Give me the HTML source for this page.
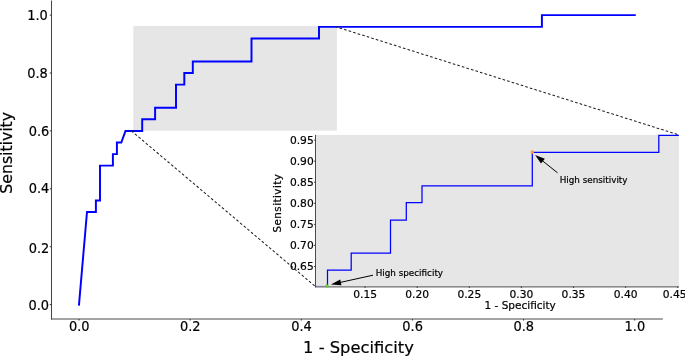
<!DOCTYPE html>
<html>
<head>
<meta charset="utf-8">
<title>ROC curve</title>
<style>
html,body{margin:0;padding:0;background:#fff;overflow:hidden;}
body{width:685px;height:356px;}
svg text{stroke:#000;stroke-width:0.2px;}
svg{display:block;will-change:transform;font-family:"DejaVu Sans","Liberation Sans",sans-serif;fill:#000;}
</style>
</head>
<body>
<svg width="685" height="356" viewBox="0 0 685 356">
<rect x="0" y="0" width="685" height="356" fill="#ffffff"/>
<!-- zoom region in main axes -->
<rect x="133.3" y="25.9" width="203.6" height="104.8" fill="#e6e6e6"/>
<!-- inset background -->
<rect x="315.5" y="134.9" width="363.4" height="151.7" fill="#e6e6e6"/>
<!-- main spines -->
<g stroke="#484848" stroke-width="1.05" fill="none">
<line x1="51.5" y1="0.5" x2="51.5" y2="319.5"/>
<line x1="51" y1="319" x2="662.8" y2="319"/>
</g>
<!-- main ticks -->
<g stroke="#333" stroke-width="1" fill="none">
<path d="M49.8 304.6H51.5M49.8 246.7H51.5M49.8 188.8H51.5M49.8 130.9H51.5M49.8 73H51.5M49.8 15.1H51.5"/>
<path d="M79 319V320.5M190.1 319V320.5M301.3 319V320.5M412.4 319V320.5M523.6 319V320.5M634.7 319V320.5"/>
</g>
<!-- main tick labels -->
<g font-size="13.6" text-anchor="end">
<text transform="translate(49.10 310.20) scale(0.955 1)">0.0</text>
<text transform="translate(49.30 252.80) scale(0.955 1)">0.2</text>
<text transform="translate(49.30 193.20) scale(0.955 1)">0.4</text>
<text transform="translate(49.30 135.90) scale(0.955 1)">0.6</text>
<text transform="translate(47.80 78.00) scale(0.955 1)">0.8</text>
<text transform="translate(47.80 19.60) scale(0.955 1)">1.0</text>
</g>
<g font-size="13.6" text-anchor="middle">
<text transform="translate(79.20 331.30) scale(0.955 1)">0.0</text>
<text transform="translate(190.30 331.30) scale(0.955 1)">0.2</text>
<text transform="translate(301.50 331.30) scale(0.955 1)">0.4</text>
<text transform="translate(412.60 331.30) scale(0.955 1)">0.6</text>
<text transform="translate(523.80 331.30) scale(0.955 1)">0.8</text>
<text transform="translate(634.90 331.30) scale(0.955 1)">1.0</text>
</g>
<!-- main axis labels -->
<text x="358.5" y="352.7" font-size="16.33" text-anchor="middle">1 - Specificity</text>
<text transform="translate(12.0 152.8) rotate(-90)" font-size="15.7" text-anchor="middle">Sensitivity</text>
<!-- main ROC curve -->
<path fill="none" stroke="#0000ff" stroke-width="1.95" stroke-linecap="square" stroke-linejoin="miter"
 d="M79 304.6L87 212H95.9V200.4H100V165.6H112.9V154.1H116.9V142.5H121.3L125.5 130.9H142.2V119.3H155.1V107.7H176V84.6H184.3V73H192.8V61.5H251.5V38.45H319V26.85H541.9V15.1H634.8"/>
<!-- connector dashed lines -->
<g stroke="#222" stroke-width="1.05" stroke-dasharray="2.65 2.1" fill="none">
<line x1="131.3" y1="130.8" x2="315.5" y2="286.6"/>
<line x1="335" y1="26.5" x2="678.9" y2="134.9"/>
</g>
<!-- inset spines -->
<g stroke="#4c4c4c" stroke-width="1" fill="none">
<line x1="315.5" y1="134.9" x2="315.5" y2="287.4"/>
<line x1="315" y1="286.9" x2="678.9" y2="286.9"/>
</g>
<!-- inset ticks -->
<g stroke="#333" stroke-width="0.9" fill="none">
<path d="M313.9 140.1H315.5M313.9 161.2H315.5M313.9 182.2H315.5M313.9 203.3H315.5M313.9 224.4H315.5M313.9 245.4H315.5M313.9 266.5H315.5"/>
<path d="M365.1 286.4V288M417.2 286.4V288M469.3 286.4V288M521.4 286.4V288M573.5 286.4V288M625.6 286.4V288M677.7 286.4V288"/>
</g>
<!-- inset tick labels -->
<g font-size="10.7" text-anchor="end">
<text x="313.7" y="143.9">0.95</text>
<text x="313.7" y="165">0.90</text>
<text x="313.7" y="186">0.85</text>
<text x="313.7" y="207.1">0.80</text>
<text x="313.7" y="228.2">0.75</text>
<text x="313.7" y="249.2">0.70</text>
<text x="313.7" y="270.3">0.65</text>
</g>
<g font-size="10.7" text-anchor="middle">
<text x="365.1" y="297.6">0.15</text>
<text x="417.2" y="297.6">0.20</text>
<text x="469.3" y="297.6">0.25</text>
<text x="521.4" y="297.6">0.30</text>
<text x="573.5" y="297.6">0.35</text>
<text x="625.6" y="297.6">0.40</text>
<text x="674.7" y="297.6">0.45</text>
</g>
<!-- inset axis labels -->
<text x="520.2" y="308.5" font-size="10.5" text-anchor="middle">1 - Specificity</text>
<text transform="translate(280.9 203.1) rotate(-90)" font-size="10.3" letter-spacing="0.48" text-anchor="middle">Sensitivity</text>
<!-- inset ROC curve -->
<path fill="none" stroke="#0000ff" stroke-width="1.25" stroke-linecap="butt" stroke-linejoin="miter"
 d="M327.5 286.4V270.1H351.2V253.2H390.5V220.1H406.3V202.7H422V185.8H532.3V152.3H658.8V135.3H678.9"/>
<line x1="316" y1="286.2" x2="326.5" y2="286.2" stroke="#3030ff" stroke-opacity="0.22" stroke-width="1"/>
<!-- markers -->
<circle cx="326.9" cy="286" r="1.8" fill="#66cc33"/>
<circle cx="532.3" cy="152.1" r="1.8" fill="#ff9a3c"/>
<!-- annotations -->
<g stroke="#000" stroke-width="1" fill="none">
<line x1="373" y1="275.2" x2="339" y2="282.7"/>
<line x1="557.5" y1="172.8" x2="541.5" y2="160"/>
</g>
<polygon points="330.9,284.5 340.2,279.4 341.5,285.2" fill="#000"/>
<polygon points="535.1,154.9 544.85,158.7 540.97,163.5" fill="#000"/>
<text x="375.7" y="275.8" font-size="8.8">High specificity</text>
<text x="559.7" y="182.5" font-size="8.8">High sensitivity</text>
</svg>
</body>
</html>
